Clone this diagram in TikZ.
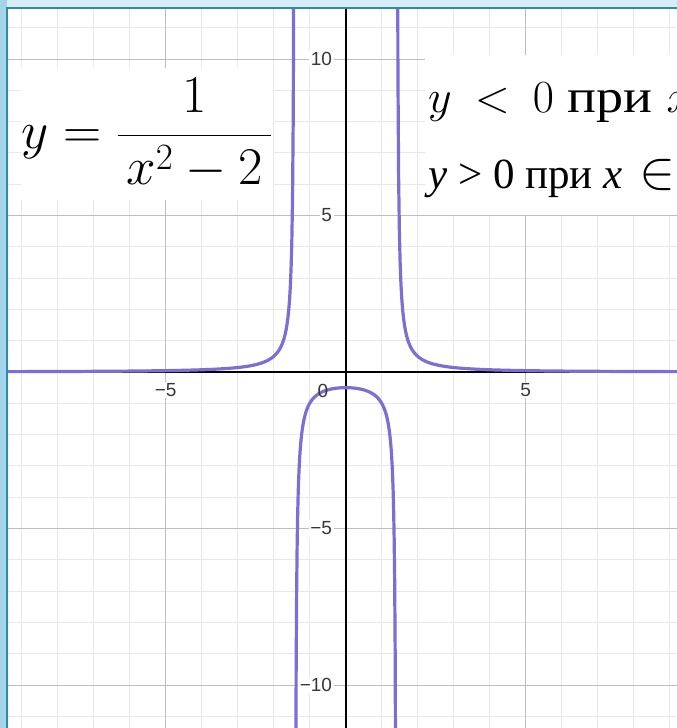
\documentclass[tikz,border=0pt]{standalone}
\usepackage{fix-cm}
\usepackage{fontspec}
\usepackage{tikz}
\usetikzlibrary{positioning}

\newfontfamily\ruserif{Liberation Serif}
\newfontfamily\ruwide[FakeStretch=1.15]{Liberation Serif}
\newfontfamily\ticksans{Liberation Sans}

\definecolor{curvepurple}{RGB}{123,111,212}
\definecolor{framedteal}{RGB}{42,140,166}
\definecolor{skypale}{RGB}{214,236,246}
\definecolor{skydeep}{RGB}{165,212,234}
\definecolor{tickgray}{RGB}{55,55,55}

\begin{document}
\begin{tikzpicture}[
    x=1pt, y=-1pt,
    % Styles
    gridminor/.style={draw=black!9, line width=1pt},
    gridmajor/.style={draw=black!26, line width=1pt},
    axisline/.style={draw=black, line width=1.8pt},
    curve/.style={draw=curvepurple, line width=3.2pt, line join=round, line cap=round},
    ticklabel/.style={fill=white, inner sep=1.5pt, text=tickgray, font=\ticksans\fontsize{19}{19}\selectfont},
    whitebox/.style={fill=white, inner sep=0pt}
]

\useasboundingbox (0,0) rectangle (677,728);

% --- Background and frame ---
\fill[skypale] (0,0) rectangle (677,728);
\fill[skydeep] (0,0) rectangle (7,728);
\fill[white] (7,7.5) rectangle (677,728);

\begin{scope}
\clip (7,7.5) rectangle (677,728);
\begin{scope}[shift={(345.7,372)}, x=36pt, y=31.3pt]

% --- Grid ---
\foreach \gx in {-9,...,9} \draw[gridminor] (\gx,-11.6) -- (\gx,11.8);
\foreach \gy in {-11,...,11} \draw[gridminor] (-9.6,\gy) -- (9.4,\gy);
\foreach \gx in {-5,5} \draw[gridmajor] (\gx,-11.6) -- (\gx,11.8);
\foreach \gy in {-10,-5,5,10} \draw[gridmajor] (-9.6,\gy) -- (9.4,\gy);

% --- Axes ---
\coordinate (origin) at (0,0);
\draw[axisline] (-9.6,0) -- (9.4,0);
\draw[axisline] (0,-11.6) -- (0,11.8);

% --- Tick labels ---
\foreach \v/\t in {10/10, 5/5, -5/−5, -10/−10}
    \node[ticklabel, anchor=east, xshift=-12pt] (ylbl\v) at (0,\v) {\t};
\foreach \v/\t in {-5/−5, 5/5}
    \node[ticklabel, anchor=north, yshift=-10pt] (xlbl\v) at (\v,0) {\t};

% --- Curve y = 1/(x^2-2) ---
\draw[curve] plot[domain=-9.8:-1.43, samples=400] (\x,{1/(\x*\x-2)});
\draw[curve] plot[domain=-1.39:1.39, samples=200] (\x,{1/(\x*\x-2)});
\draw[curve] plot[domain=1.43:9.6, samples=400] (\x,{1/(\x*\x-2)});

\node[ticklabel, fill=none] (xlbl0) at (-0.63,-0.62) {0};

\end{scope}

% --- Formula box ---
\node[whitebox, minimum width=252pt, minimum height=132pt] (formula) at (147,134)
    {\fontsize{53}{60}\selectfont$\displaystyle y = \frac{1}{\,x^{2} - 2\,}$};

% --- Sign box ---
\node[whitebox, anchor=north west, minimum width=262pt, minimum height=160pt] (signbox) at (425,55) {};
\node[anchor=base west, inner sep=0pt] (signneg) at (428,112)
    {\fontsize{46}{50}\selectfont$y \:<\: 0$ {\ruwide\fontsize{47}{50}\selectfont при} $x$};
\node[anchor=base west, inner sep=0pt] (signpos) at (428,188)
    {\ruserif\fontsize{43}{50}\selectfont\itshape y\upshape{} > 0 при \itshape x\upshape{}\hspace{6pt} {\fontsize{54}{50}\selectfont$\in$}};
\end{scope}

% --- Frame edge ---
\draw[framedteal, line width=2pt] (677,7.5) -- (7,7.5) -- (7,728);

\end{tikzpicture}
\end{document}
